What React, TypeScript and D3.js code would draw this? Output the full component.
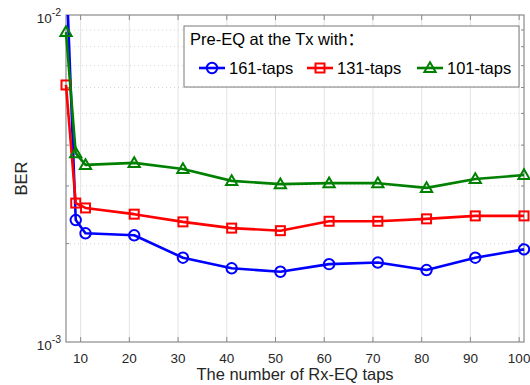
import React, { useEffect, useRef } from 'react';
import * as d3 from 'd3';

// Rx-EQ taps (x) and BER for each Tx pre-EQ length
const taps = [7, 9, 11, 21, 31, 41, 51, 61, 71, 81, 91, 101];
const ber161 = [0.0143, 0.00236, 0.00215, 0.00212, 0.00181, 0.00168, 0.00164, 0.00173, 0.00175, 0.00166, 0.00181, 0.00192];
const ber131 = [0.00611, 0.00266, 0.00257, 0.00246, 0.00233, 0.00223, 0.00219, 0.00234, 0.00234, 0.00238, 0.00243, 0.00243];
const ber101 = [0.00887, 0.00378, 0.00348, 0.00353, 0.00338, 0.00311, 0.00304, 0.00306, 0.00306, 0.00296, 0.00315, 0.00324];
const xTicks = [10, 20, 30, 40, 50, 60, 70, 80, 90, 100];
const seriesNames = ['161-taps', '131-taps', '101-taps'];
const legendTitle = 'Pre-EQ at the Tx with';

const App = () => {
  const svgRef = useRef<SVGSVGElement>(null);

  useEffect(() => {
    const svg = d3.select(svgRef.current);
    svg.selectAll('*').remove();

    const width = 530;
    const height = 385;
    const margin = { top: 15, right: 6, bottom: 43, left: 66 };
    const font = 'Arial, "Liberation Sans", sans-serif';
    const axisColor = '#8a8a8a';

    const x = d3.scaleLinear().domain([7, 101]).range([margin.left, width - margin.right]);
    const y = d3.scaleLog().domain([1e-3, 1e-2]).range([height - margin.bottom, margin.top]);

    const x0 = margin.left;
    const x1 = width - margin.right;
    const y0 = height - margin.bottom;
    const y1 = margin.top;

    svg.append('rect').attr('width', width).attr('height', height).attr('fill', '#fff');

    // vertical grid
    svg
      .append('g')
      .selectAll('line')
      .data(xTicks)
      .enter()
      .append('line')
      .attr('x1', (d) => x(d))
      .attr('x2', (d) => x(d))
      .attr('y1', y0)
      .attr('y2', y1)
      .attr('stroke', '#e3e3e3')
      .attr('stroke-width', 1);

    // minor horizontal grid (dotted)
    const minor = d3.range(2, 10).map((k) => k * 1e-3);
    svg
      .append('g')
      .selectAll('line')
      .data(minor)
      .enter()
      .append('line')
      .attr('x1', x0)
      .attr('x2', x1)
      .attr('y1', (d) => y(d))
      .attr('y2', (d) => y(d))
      .attr('stroke', '#d4d4d4')
      .attr('stroke-width', 1)
      .attr('stroke-dasharray', '1,3');

    // axis box
    svg
      .append('rect')
      .attr('x', x0)
      .attr('y', y1)
      .attr('width', x1 - x0)
      .attr('height', y0 - y1)
      .attr('fill', 'none')
      .attr('stroke', axisColor)
      .attr('stroke-width', 1.2);

    // ticks
    const tickG = svg.append('g').attr('stroke', axisColor).attr('stroke-width', 1);
    xTicks.forEach((t) => {
      tickG.append('line').attr('x1', x(t)).attr('x2', x(t)).attr('y1', y0).attr('y2', y0 - 5);
      tickG.append('line').attr('x1', x(t)).attr('x2', x(t)).attr('y1', y1).attr('y2', y1 + 5);
    });
    minor.forEach((t) => {
      tickG.append('line').attr('x1', x0).attr('x2', x0 + 3).attr('y1', y(t)).attr('y2', y(t));
      tickG.append('line').attr('x1', x1).attr('x2', x1 - 3).attr('y1', y(t)).attr('y2', y(t));
    });

    // x tick labels
    svg
      .append('g')
      .selectAll('text')
      .data(xTicks)
      .enter()
      .append('text')
      .attr('x', (d) => x(d))
      .attr('y', y0 + 21)
      .attr('text-anchor', 'middle')
      .attr('font-family', font)
      .attr('font-size', 13.5)
      .attr('fill', '#262626')
      .text((d) => d);

    // y tick labels 10^-2 / 10^-3
    [
      { v: 1e-2, e: '-2' },
      { v: 1e-3, e: '-3' },
    ].forEach((d) => {
      const t = svg
        .append('text')
        .attr('x', x0 - 5)
        .attr('y', y(d.v) + 8)
        .attr('text-anchor', 'end')
        .attr('font-family', font)
        .attr('font-size', 13.5)
        .attr('fill', '#262626');
      t.append('tspan').text('10');
      t.append('tspan').attr('dy', -7).attr('font-size', 10.5).text(d.e);
    });

    // axis titles
    svg
      .append('text')
      .attr('x', (x0 + x1) / 2)
      .attr('y', 380)
      .attr('text-anchor', 'middle')
      .attr('font-family', font)
      .attr('font-size', 16.5)
      .attr('fill', '#262626')
      .text('The number of Rx-EQ taps');

    svg
      .append('text')
      .attr('transform', `translate(27, ${(y0 + y1) / 2}) rotate(-90)`)
      .attr('text-anchor', 'middle')
      .attr('font-family', font)
      .attr('font-size', 16.5)
      .attr('fill', '#262626')
      .text('BER');

    // clip lines at the top of the axes
    svg
      .append('clipPath')
      .attr('id', 'plotClip')
      .append('rect')
      .attr('x', 0)
      .attr('y', y1)
      .attr('width', width)
      .attr('height', y0 - y1);

    const series = [
      { name: seriesNames[0], values: ber161, color: '#0000ff', marker: 'circle' },
      { name: seriesNames[1], values: ber131, color: '#ff0000', marker: 'square' },
      { name: seriesNames[2], values: ber101, color: '#008000', marker: 'triangle' },
    ];

    const line = d3
      .line<number>()
      .x((d, i) => x(taps[i]))
      .y((d) => y(d));

    const drawMarker = (g, kind, cx, cy, color) => {
      if (kind === 'circle') {
        g.append('circle').attr('cx', cx).attr('cy', cy).attr('r', 5.2).attr('fill', 'none').attr('stroke', color).attr('stroke-width', 2);
      } else if (kind === 'square') {
        g.append('rect').attr('x', cx - 4.5).attr('y', cy - 4.5).attr('width', 9).attr('height', 9).attr('fill', 'none').attr('stroke', color).attr('stroke-width', 2);
      } else {
        const s = d3.symbol().type(d3.symbolTriangle).size(55);
        g.append('path').attr('d', s()).attr('transform', `translate(${cx},${cy + 0.8})`).attr('fill', 'none').attr('stroke', color).attr('stroke-width', 2);
      }
    };

    const plot = svg.append('g').attr('clip-path', 'url(#plotClip)');
    series.forEach((s) => {
      plot
        .append('path')
        .datum(s.values)
        .attr('d', line)
        .attr('fill', 'none')
        .attr('stroke', s.color)
        .attr('stroke-width', 2.6)
        .attr('stroke-linejoin', 'round');
      s.values.forEach((v, i) => drawMarker(plot, s.marker, x(taps[i]), y(v), s.color));
    });

    // legend
    const lg = svg.append('g');
    lg.append('rect')
      .attr('x', 184)
      .attr('y', 26)
      .attr('width', 335)
      .attr('height', 61)
      .attr('fill', '#fff')
      .attr('stroke', '#7a7a7a')
      .attr('stroke-width', 1);
    const title = lg
      .append('text')
      .attr('x', 190)
      .attr('y', 45)
      .attr('font-family', font)
      .attr('font-size', 16.5)
      .attr('fill', '#000');
    title.append('tspan').text(legendTitle);
    title.append('tspan').attr('font-family', '"Noto Sans CJK SC"').text('：');
    const entryX = [199, 307, 417];
    series.forEach((s, i) => {
      const lx = entryX[i];
      const ly = 68;
      lg.append('line')
        .attr('x1', lx)
        .attr('x2', lx + 26)
        .attr('y1', ly)
        .attr('y2', ly)
        .attr('stroke', s.color)
        .attr('stroke-width', 2.6);
      drawMarker(lg, s.marker, lx + 13, ly, s.color);
      lg.append('text')
        .attr('x', lx + 30)
        .attr('y', ly + 6)
        .attr('font-family', font)
        .attr('font-size', 16.5)
        .attr('fill', '#000')
        .text(s.name);
    });
  }, []);

  return (
    <div style={{ position: 'fixed', left: 0, top: 0 }}>
      <svg ref={svgRef} width={530} height={385} style={{ display: 'block' }} />
    </div>
  );
};

export default App;
